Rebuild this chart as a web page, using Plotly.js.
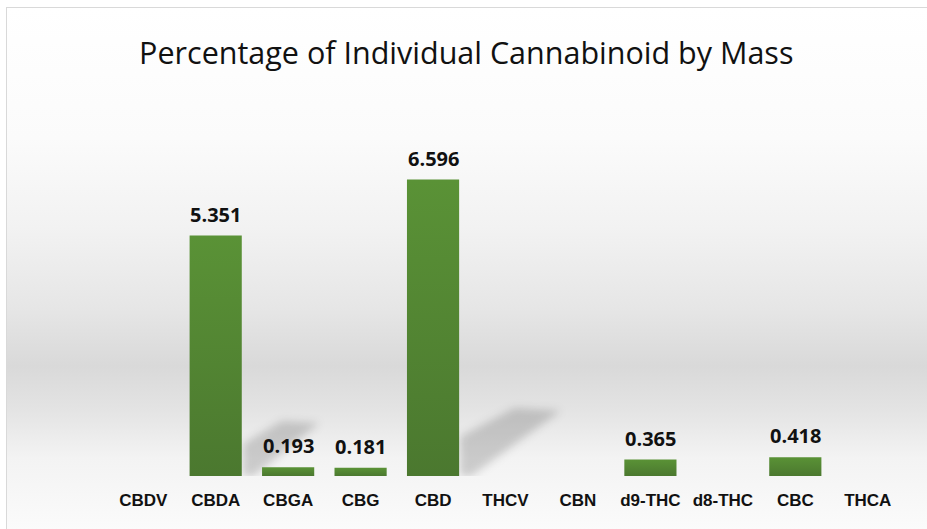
<!DOCTYPE html>
<html><head><meta charset="utf-8">
<script src="https://cdn.plot.ly/plotly-3.0.1.min.js"></script>
<style>
html,body{margin:0;padding:0;background:#fff;width:927px;height:529px;overflow:hidden}
#bg{position:absolute;left:6px;top:7px;width:921px;height:522px;border-left:1.5px solid #d9d9d9;border-top:1.5px solid #d9d9d9;box-sizing:border-box;
background:linear-gradient(to bottom,#ffffff 0px,#fbfbfb 130px,#f2f2f2 220px,#e6e6e6 300px,#d9d9d9 358px,#e3e3e3 400px,#f3f3f3 450px,#fbfbfb 522px);}
#chart{position:absolute;left:0;top:0;width:927px;height:529px}
</style></head><body>
<div id="bg"></div>
<div id="chart"></div>
<script>
const categories = ["CBDV","CBDA","CBGA","CBG","CBD","THCV","CBN","d9-THC","d8-THC","CBC","THCA"];
const values = [0, 5.351, 0.193, 0.181, 6.596, 0, 0, 0.365, 0, 0.418, 0];
const labels = ["", "5.351", "0.193", "0.181", "6.596", "", "", "0.365", "", "0.418", ""];
const titleText = "Percentage of Individual Cannabinoid by Mass";

const trace = {
  type: "bar", x: categories, y: values,
  marker: {color: "#538733", line: {width: 0}},
  hoverinfo: "x+y"
};
const annotations = categories.map((c, i) => labels[i] ? {
  x: c, y: values[i], xref: "x", yref: "y", text: "<b>" + labels[i] + "</b>",
  showarrow: false, yanchor: "bottom", yshift: 6,
  font: {family: "Open Sans, Noto Sans, sans-serif", size: 20, color: "#111"}
} : null).filter(a => a);

// soft perspective shadow behind each tall bar, scaled with the bar's value
const shapes = [];
categories.forEach((c, i) => {
  if (values[i] > 1) {
    const k = values[i] * 10.3;
    const p = "M 27 0 L 27 " + (0.58 * k).toFixed(1) +
      " L " + (1.2 * k).toFixed(1) + " " + k.toFixed(1) +
      " L " + (1.88 * k).toFixed(1) + " " + (0.96 * k).toFixed(1) +
      " L 38 0 Z";
    shapes.push({
      type: "path", xref: "x", yref: "y", xsizemode: "pixel", ysizemode: "pixel",
      xanchor: c, yanchor: 0, path: p,
      fillcolor: "rgba(0,0,0,0.17)", line: {width: 0}, layer: "below"
    });
  }
});

const layout = {
  width: 927, height: 529,
  paper_bgcolor: "rgba(0,0,0,0)", plot_bgcolor: "rgba(0,0,0,0)",
  margin: {l: 107, r: 23, t: 139, b: 53},
  title: {text: titleText, x: 0.503, xanchor: "center", y: 0.9, yanchor: "middle",
    font: {family: "Open Sans, Noto Sans, sans-serif", size: 30.5, color: "#111"}},
  bargap: 0.28,
  showlegend: false,
  xaxis: {type: "category", showgrid: false, zeroline: false, showline: false, ticks: "",
    tickfont: {family: "Liberation Sans, Arial, sans-serif", size: 17, color: "#111", weight: "bold"},
    ticklabelstandoff: 12},
  yaxis: {range: [0, 7.5], visible: false, showgrid: false, zeroline: false},
  annotations: annotations,
  shapes: shapes
};
function styleMarks(gd) {
  const svg = gd.querySelector("svg.main-svg");
  const ns = "http://www.w3.org/2000/svg";
  if (!document.getElementById("softshadow")) {
    const defs = document.createElementNS(ns, "defs");
    const f = document.createElementNS(ns, "filter");
    f.setAttribute("id", "softshadow");
    f.setAttribute("x", "-50%"); f.setAttribute("y", "-50%");
    f.setAttribute("width", "200%"); f.setAttribute("height", "200%");
    const b = document.createElementNS(ns, "feGaussianBlur");
    b.setAttribute("stdDeviation", "4");
    f.appendChild(b); defs.appendChild(f);
    const g = document.createElementNS(ns, "linearGradient");
    g.setAttribute("id", "bargrad");
    g.setAttribute("x1", "0"); g.setAttribute("y1", "0"); g.setAttribute("x2", "0"); g.setAttribute("y2", "1");
    [["0", "#5a9236"], ["1", "#4b782f"]].forEach(([o, c]) => {
      const s = document.createElementNS(ns, "stop");
      s.setAttribute("offset", o); s.setAttribute("stop-color", c); g.appendChild(s);
    });
    defs.appendChild(g);
    svg.insertBefore(defs, svg.firstChild);
  }
  gd.querySelectorAll(".shapelayer path").forEach(p => {
    p.setAttribute("filter", "url(#softshadow)");
    p.style.filter = "url(#softshadow)";
  });
  gd.querySelectorAll(".barlayer .point path").forEach(p => {
    p.style.fill = "url(#bargrad)";
  });
}
Plotly.newPlot("chart", [trace], layout, {displayModeBar: false, staticPlot: true}).then(gd => {
  styleMarks(gd);
  setTimeout(() => styleMarks(gd), 50);
});
</script>
</body></html>
